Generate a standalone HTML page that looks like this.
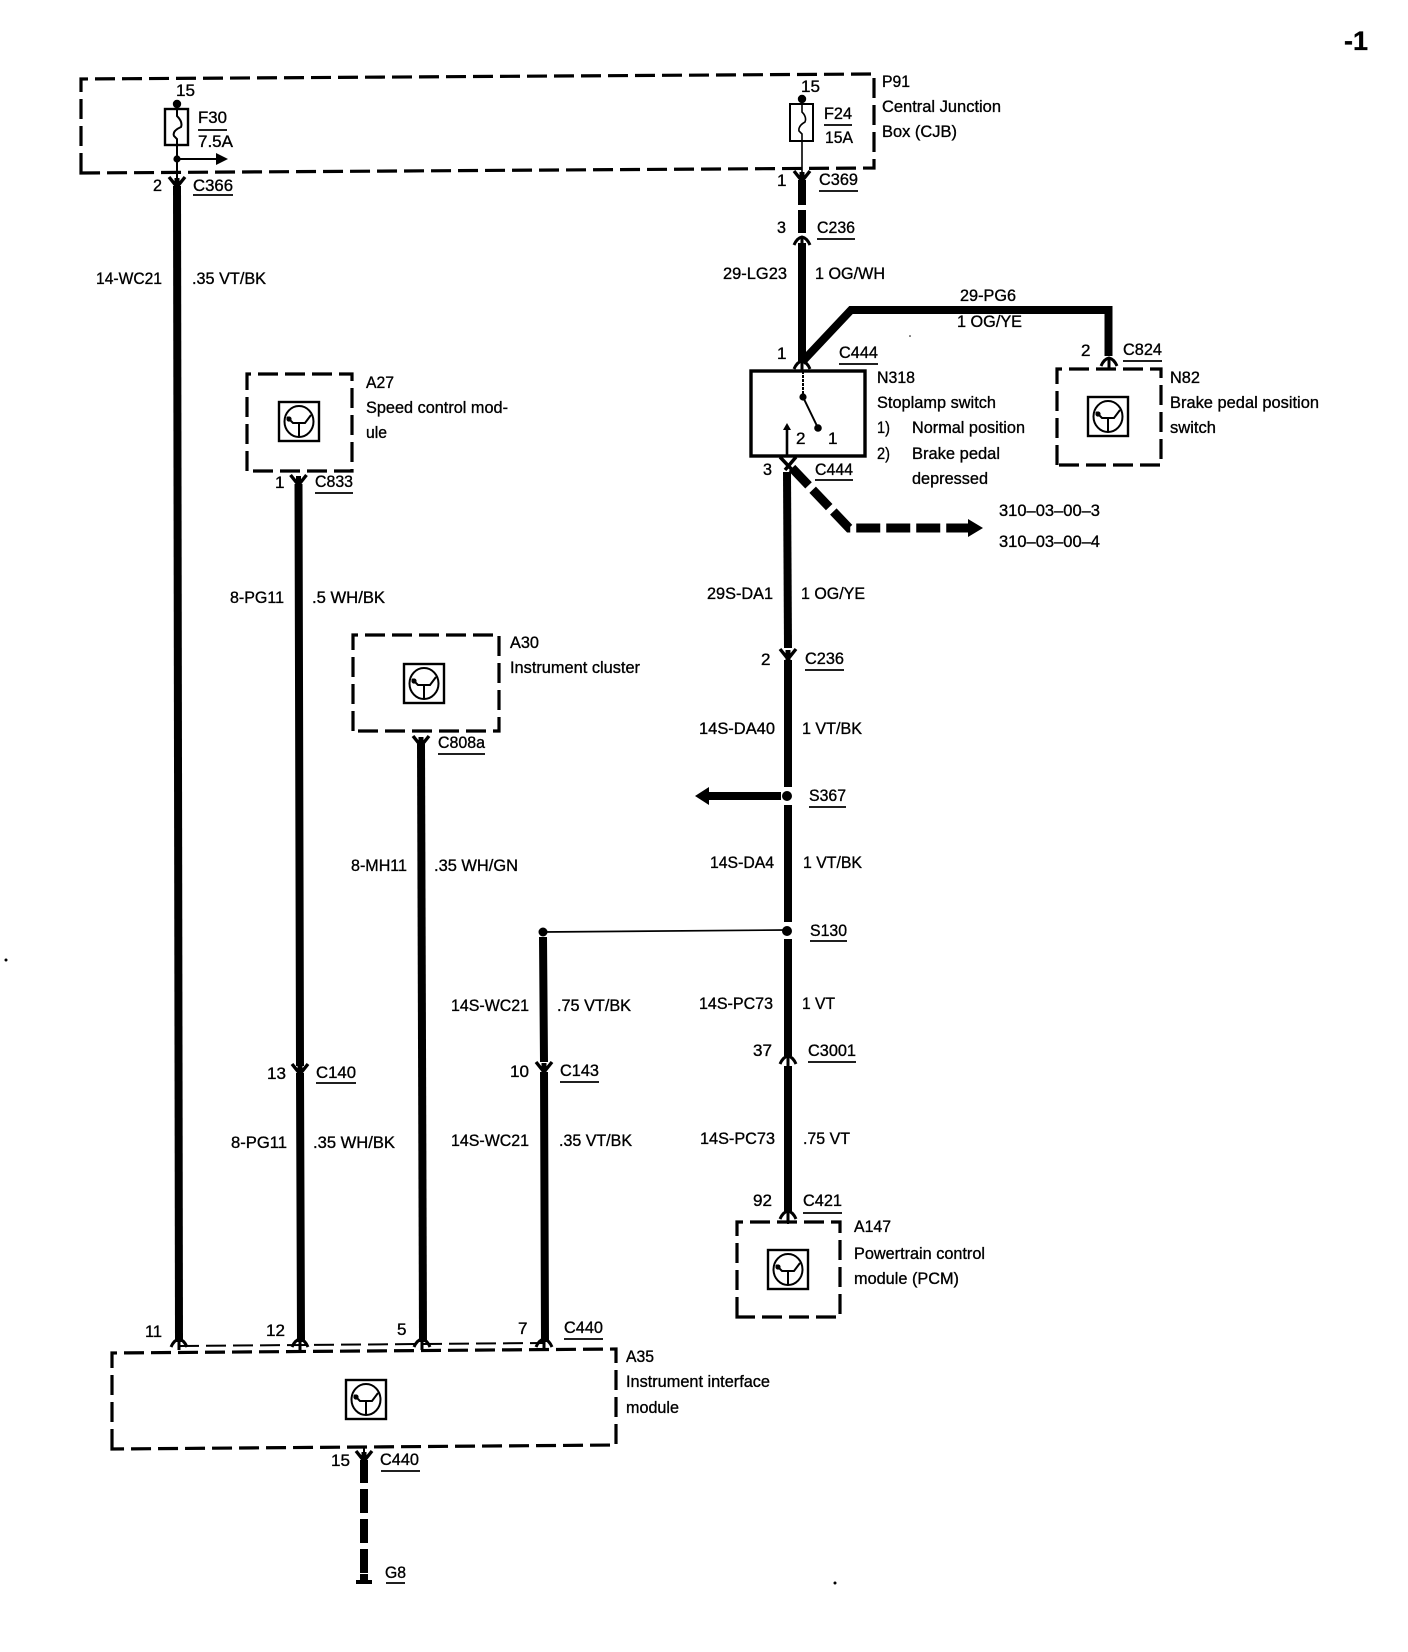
<!DOCTYPE html>
<html>
<head>
<meta charset="utf-8">
<title>Wiring diagram</title>
<style>
html,body{margin:0;padding:0;background:#fff}
svg{display:block}
text{font-family:"Liberation Sans",sans-serif;font-size:17px;fill:#000;stroke:#000;stroke-width:.35}
.w{fill:none;stroke:#000;stroke-width:8}
.t{fill:none;stroke:#000;stroke-width:2}
.u{fill:none;stroke:#000;stroke-width:1.8}
.b{fill:none;stroke:#000;stroke-width:3.2;stroke-dasharray:20 7}
.c{fill:none;stroke:#000;stroke-width:3.2}
</style>
</head>
<body>
<svg xmlns="http://www.w3.org/2000/svg" width="1408" height="1652" viewBox="0 0 1408 1652">
<defs>
<g id="cd"><path d="M-8 -7 L0 3 L8 -7" fill="none" stroke="#000" stroke-width="3.4"/><path d="M0 -6 V6" stroke="#000" stroke-width="5"/></g>
<g id="cu"><path d="M-8 5 Q-5 -2 0 -3 Q5 -2 8 5" fill="none" stroke="#000" stroke-width="3"/><path d="M0 -3 V8" stroke="#000" stroke-width="3"/></g>
<g id="ic"><rect x="0" y="0" width="40" height="39" fill="#fff" stroke="#000" stroke-width="2.4"/><ellipse cx="20" cy="19.500" rx="14.500" ry="15.500" fill="none" stroke="#000" stroke-width="2"/><path d="M8 15 L14 21 H26 L32 13 M20 21 V35" fill="none" stroke="#000" stroke-width="2"/><circle cx="10" cy="17" r="2.600"/></g>
</defs>

<!-- Boxes -->
<path class="b" d="M81 173 V79 L874 74 V168 Z"/>
<path class="b" d="M247 471 V374 H352 V471 Z"/>
<path class="b" d="M353 731 V635 H499 V731 Z"/>
<path class="b" d="M1057 465 V369 H1161 V465 Z"/>
<path class="b" d="M737 1317 V1222 H840 V1317 Z"/>
<path class="b" d="M112 1449 V1353 L616 1349 V1445 Z"/>
<path class="b" style="stroke-width:2" d="M179 1346 L544 1343"/>
<rect x="751" y="371" width="114" height="85" fill="none" stroke="#000" stroke-width="3.400"/>

<!-- Icons -->
<use href="#ic" x="279" y="402"/>
<use href="#ic" x="404" y="664"/>
<use href="#ic" x="1088" y="397"/>
<use href="#ic" x="768" y="1250"/>
<use href="#ic" x="346" y="1380"/>

<!-- Fuses -->
<circle cx="177" cy="104" r="4.200"/>
<rect x="165" y="109" width="23" height="36" fill="none" stroke="#000" stroke-width="2.400"/>
<path class="t" d="M177 104 V116 Q183 122 181 127 Q172 131 174 136 L177 139 V178"/>
<circle cx="177" cy="159" r="3.600"/>
<path class="t" d="M177 159 H218"/>
<path d="M216 153 L228 159 L216 165 Z"/>
<circle cx="802" cy="99" r="4.200"/>
<rect x="790" y="104" width="23" height="37" fill="none" stroke="#000" stroke-width="2"/>
<path class="t" style="stroke-width:1.600" d="M802 99 V112 Q807 117 805 122 Q798 126 799 131 L802 134 V178"/>

<!-- Underlines and fuse rules -->
<path class="u" d="M198 130 H227 M193 195 H233 M824 125 H852 M819 191 H858 M817 239 H855 M839 364 H878 M1123 361 H1162 M815 480 H853 M315 493 H353 M438 754 H485 M316 1083 H356 M560 1082 H599 M805 670 H844 M809 807 H846 M810 941 H847 M808 1062 H856 M803 1213 H842 M564 1339 H603 M381 1471 H420 M386 1583 H405"/>

<!-- Left wires -->
<path class="w" d="M177 186 L179 1342"/>
<use href="#cd" x="177" y="184"/>
<use href="#cu" x="179" y="1342"/>
<path class="w" d="M298.500 484 L300 1066 M300 1073 L301 1342"/>
<use href="#cd" x="298.500" y="482"/>
<use href="#cd" x="300" y="1071"/>
<use href="#cu" x="300" y="1342"/>
<path class="w" d="M421 744 L423 1342"/>
<use href="#cd" x="421" y="743"/>
<use href="#cu" x="422" y="1342"/>
<path class="w" d="M543 937 L544 1062 M544 1072 L545 1342"/>
<use href="#cd" x="544" y="1069"/>
<use href="#cu" x="544" y="1342"/>
<circle cx="543" cy="932" r="4.500"/>
<path class="t" style="stroke-width:1.700" d="M543 932 L786 930"/>

<!-- Ground -->
<path class="t" d="M364 1446 V1456"/>
<use href="#cd" x="364" y="1458"/>
<path class="w" d="M364 1460 V1483"/>
<path class="w" stroke-dasharray="24 6" d="M364 1489 V1576"/>
<rect x="356" y="1580" width="16" height="4"/>
<path d="M360 1574 H368 V1582 H360 Z"/>

<!-- Upper right wires -->
<path class="w" d="M802 180 V205"/>
<use href="#cd" x="802" y="178"/>
<path class="w" d="M802 210 V233"/>
<use href="#cu" x="802" y="240"/>
<path class="w" d="M802 243 V362"/>
<path class="w" d="M802 362 L851 310 H1108.500 V356"/>
<use href="#cu" x="802" y="364"/>
<use href="#cu" x="1109" y="361"/>
<path class="t" stroke-dasharray="3 1" d="M803 371 V397"/>
<circle cx="803" cy="397" r="3.600"/>
<path class="t" d="M803 397 L818 428"/>
<circle cx="818" cy="428" r="3.800"/>
<path class="t" style="stroke-width:2.600" d="M787 456 V428"/>
<path d="M783 430 L787 423 L791 430 Z"/>

<!-- Main wire -->
<path class="c" style="stroke-width:3.500" d="M780 457 L796 474 M796 457 L785 470"/>
<path class="w" d="M787 472 L788 648"/>
<path class="w" stroke-dasharray="24 6" style="stroke-width:9" d="M792 468 L849 528 H968"/>
<path d="M968 519 L983 528 L968 537 Z"/>
<use href="#cd" x="788" y="656"/>
<path class="w" d="M788 660 V787"/>
<path class="w" d="M788 805 V922"/>
<path class="w" d="M788 939 V1056"/>
<use href="#cu" x="788" y="1059"/>
<path class="w" d="M788 1066 V1212"/>
<use href="#cu" x="788" y="1214"/>
<path class="t" d="M788 1218 V1224"/>
<circle cx="787" cy="796" r="5"/>
<path d="M708 792 H781 V800 H708 Z"/>
<path d="M709 787 L695 796 L709 805 Z"/>
<circle cx="787" cy="931" r="5"/>

<!-- Specks -->
<circle cx="6" cy="960" r="1.500"/>
<circle cx="835" cy="1583" r="1.500"/>
<circle cx="910" cy="336" r=".8"/>

<!-- Text -->
<text x="1344" y="50" textLength="24" lengthAdjust="spacingAndGlyphs" style="font-size:27px;font-weight:bold">-1</text>
<text x="176" y="96" textLength="19" lengthAdjust="spacingAndGlyphs">15</text>
<text x="198" y="123" textLength="29" lengthAdjust="spacingAndGlyphs">F30</text>
<text x="198" y="147" textLength="35" lengthAdjust="spacingAndGlyphs">7.5A</text>
<text x="153" y="191" textLength="9" lengthAdjust="spacingAndGlyphs">2</text>
<text x="193" y="191" textLength="40" lengthAdjust="spacingAndGlyphs">C366</text>
<text x="96" y="284" textLength="66" lengthAdjust="spacingAndGlyphs">14-WC21</text>
<text x="192" y="284" textLength="74" lengthAdjust="spacingAndGlyphs">.35 VT/BK</text>
<text x="801" y="92" textLength="19" lengthAdjust="spacingAndGlyphs">15</text>
<text x="824" y="119" textLength="28" lengthAdjust="spacingAndGlyphs">F24</text>
<text x="825" y="143" textLength="28" lengthAdjust="spacingAndGlyphs">15A</text>
<text x="882" y="87" textLength="28" lengthAdjust="spacingAndGlyphs">P91</text>
<text x="882" y="112" textLength="119" lengthAdjust="spacingAndGlyphs">Central Junction</text>
<text x="882" y="137" textLength="75" lengthAdjust="spacingAndGlyphs">Box (CJB)</text>
<text x="777" y="186" textLength="9.500" lengthAdjust="spacingAndGlyphs">1</text>
<text x="819" y="185" textLength="39" lengthAdjust="spacingAndGlyphs">C369</text>
<text x="777" y="233" textLength="9" lengthAdjust="spacingAndGlyphs">3</text>
<text x="817" y="233" textLength="38" lengthAdjust="spacingAndGlyphs">C236</text>
<text x="723" y="279" textLength="64" lengthAdjust="spacingAndGlyphs">29-LG23</text>
<text x="815" y="279" textLength="70" lengthAdjust="spacingAndGlyphs">1 OG/WH</text>
<text x="960" y="301" textLength="56" lengthAdjust="spacingAndGlyphs">29-PG6</text>
<text x="957" y="327" textLength="65" lengthAdjust="spacingAndGlyphs">1 OG/YE</text>
<text x="777" y="359" textLength="9.500" lengthAdjust="spacingAndGlyphs">1</text>
<text x="839" y="358" textLength="39" lengthAdjust="spacingAndGlyphs">C444</text>
<text x="1081" y="356" textLength="9.500" lengthAdjust="spacingAndGlyphs">2</text>
<text x="1123" y="355" textLength="39" lengthAdjust="spacingAndGlyphs">C824</text>
<text x="877" y="383" textLength="38" lengthAdjust="spacingAndGlyphs">N318</text>
<text x="877" y="408" textLength="119" lengthAdjust="spacingAndGlyphs">Stoplamp switch</text>
<text x="877" y="433" textLength="13" lengthAdjust="spacingAndGlyphs">1)</text>
<text x="912" y="433" textLength="113" lengthAdjust="spacingAndGlyphs">Normal position</text>
<text x="877" y="459" textLength="13" lengthAdjust="spacingAndGlyphs">2)</text>
<text x="912" y="459" textLength="88" lengthAdjust="spacingAndGlyphs">Brake pedal</text>
<text x="912" y="484" textLength="76" lengthAdjust="spacingAndGlyphs">depressed</text>
<text x="1170" y="383" textLength="30" lengthAdjust="spacingAndGlyphs">N82</text>
<text x="1170" y="408" textLength="149" lengthAdjust="spacingAndGlyphs">Brake pedal position</text>
<text x="1170" y="433" textLength="46" lengthAdjust="spacingAndGlyphs">switch</text>
<text x="796" y="444" textLength="9.500" lengthAdjust="spacingAndGlyphs">2</text>
<text x="828" y="444" textLength="9.500" lengthAdjust="spacingAndGlyphs">1</text>
<text x="763" y="475" textLength="9" lengthAdjust="spacingAndGlyphs">3</text>
<text x="815" y="475" textLength="38" lengthAdjust="spacingAndGlyphs">C444</text>
<text x="999" y="516" textLength="101" lengthAdjust="spacingAndGlyphs">310–03–00–3</text>
<text x="999" y="547" textLength="101" lengthAdjust="spacingAndGlyphs">310–03–00–4</text>
<text x="366" y="388" textLength="28" lengthAdjust="spacingAndGlyphs">A27</text>
<text x="366" y="413" textLength="142" lengthAdjust="spacingAndGlyphs">Speed control mod-</text>
<text x="366" y="438" textLength="21" lengthAdjust="spacingAndGlyphs">ule</text>
<text x="275" y="488" textLength="9.500" lengthAdjust="spacingAndGlyphs">1</text>
<text x="315" y="487" textLength="38" lengthAdjust="spacingAndGlyphs">C833</text>
<text x="230" y="603" textLength="54" lengthAdjust="spacingAndGlyphs">8-PG11</text>
<text x="312" y="603" textLength="73" lengthAdjust="spacingAndGlyphs">.5 WH/BK</text>
<text x="510" y="648" textLength="29" lengthAdjust="spacingAndGlyphs">A30</text>
<text x="510" y="673" textLength="130" lengthAdjust="spacingAndGlyphs">Instrument cluster</text>
<text x="438" y="748" textLength="47" lengthAdjust="spacingAndGlyphs">C808a</text>
<text x="351" y="871" textLength="56" lengthAdjust="spacingAndGlyphs">8-MH11</text>
<text x="434" y="871" textLength="84" lengthAdjust="spacingAndGlyphs">.35 WH/GN</text>
<text x="451" y="1011" textLength="78" lengthAdjust="spacingAndGlyphs">14S-WC21</text>
<text x="557" y="1011" textLength="74" lengthAdjust="spacingAndGlyphs">.75 VT/BK</text>
<text x="267" y="1079" textLength="19" lengthAdjust="spacingAndGlyphs">13</text>
<text x="316" y="1078" textLength="40" lengthAdjust="spacingAndGlyphs">C140</text>
<text x="510" y="1077" textLength="19" lengthAdjust="spacingAndGlyphs">10</text>
<text x="560" y="1076" textLength="39" lengthAdjust="spacingAndGlyphs">C143</text>
<text x="231" y="1148" textLength="56" lengthAdjust="spacingAndGlyphs">8-PG11</text>
<text x="313" y="1148" textLength="82" lengthAdjust="spacingAndGlyphs">.35 WH/BK</text>
<text x="451" y="1146" textLength="78" lengthAdjust="spacingAndGlyphs">14S-WC21</text>
<text x="559" y="1146" textLength="73" lengthAdjust="spacingAndGlyphs">.35 VT/BK</text>
<text x="707" y="599" textLength="66" lengthAdjust="spacingAndGlyphs">29S-DA1</text>
<text x="801" y="599" textLength="64" lengthAdjust="spacingAndGlyphs">1 OG/YE</text>
<text x="761" y="665" textLength="9.500" lengthAdjust="spacingAndGlyphs">2</text>
<text x="805" y="664" textLength="39" lengthAdjust="spacingAndGlyphs">C236</text>
<text x="699" y="734" textLength="76" lengthAdjust="spacingAndGlyphs">14S-DA40</text>
<text x="802" y="734" textLength="60" lengthAdjust="spacingAndGlyphs">1 VT/BK</text>
<text x="809" y="801" textLength="37" lengthAdjust="spacingAndGlyphs">S367</text>
<text x="710" y="868" textLength="64" lengthAdjust="spacingAndGlyphs">14S-DA4</text>
<text x="803" y="868" textLength="59" lengthAdjust="spacingAndGlyphs">1 VT/BK</text>
<text x="810" y="936" textLength="37" lengthAdjust="spacingAndGlyphs">S130</text>
<text x="699" y="1009" textLength="74" lengthAdjust="spacingAndGlyphs">14S-PC73</text>
<text x="802" y="1009" textLength="33" lengthAdjust="spacingAndGlyphs">1 VT</text>
<text x="753" y="1056" textLength="19" lengthAdjust="spacingAndGlyphs">37</text>
<text x="808" y="1056" textLength="48" lengthAdjust="spacingAndGlyphs">C3001</text>
<text x="700" y="1144" textLength="75" lengthAdjust="spacingAndGlyphs">14S-PC73</text>
<text x="803" y="1144" textLength="47" lengthAdjust="spacingAndGlyphs">.75 VT</text>
<text x="753" y="1206" textLength="19" lengthAdjust="spacingAndGlyphs">92</text>
<text x="803" y="1206" textLength="39" lengthAdjust="spacingAndGlyphs">C421</text>
<text x="854" y="1232" textLength="37" lengthAdjust="spacingAndGlyphs">A147</text>
<text x="854" y="1259" textLength="131" lengthAdjust="spacingAndGlyphs">Powertrain control</text>
<text x="854" y="1284" textLength="105" lengthAdjust="spacingAndGlyphs">module (PCM)</text>
<text x="145" y="1337" textLength="17" lengthAdjust="spacingAndGlyphs">11</text>
<text x="266" y="1336" textLength="19" lengthAdjust="spacingAndGlyphs">12</text>
<text x="397" y="1335" textLength="9.500" lengthAdjust="spacingAndGlyphs">5</text>
<text x="518" y="1334" textLength="9.500" lengthAdjust="spacingAndGlyphs">7</text>
<text x="564" y="1333" textLength="39" lengthAdjust="spacingAndGlyphs">C440</text>
<text x="626" y="1362" textLength="28" lengthAdjust="spacingAndGlyphs">A35</text>
<text x="626" y="1387" textLength="144" lengthAdjust="spacingAndGlyphs">Instrument interface</text>
<text x="626" y="1413" textLength="53" lengthAdjust="spacingAndGlyphs">module</text>
<text x="331" y="1466" textLength="19" lengthAdjust="spacingAndGlyphs">15</text>
<text x="380" y="1465" textLength="39" lengthAdjust="spacingAndGlyphs">C440</text>
<text x="385" y="1578" textLength="21" lengthAdjust="spacingAndGlyphs">G8</text>
</svg>
</body>
</html>
